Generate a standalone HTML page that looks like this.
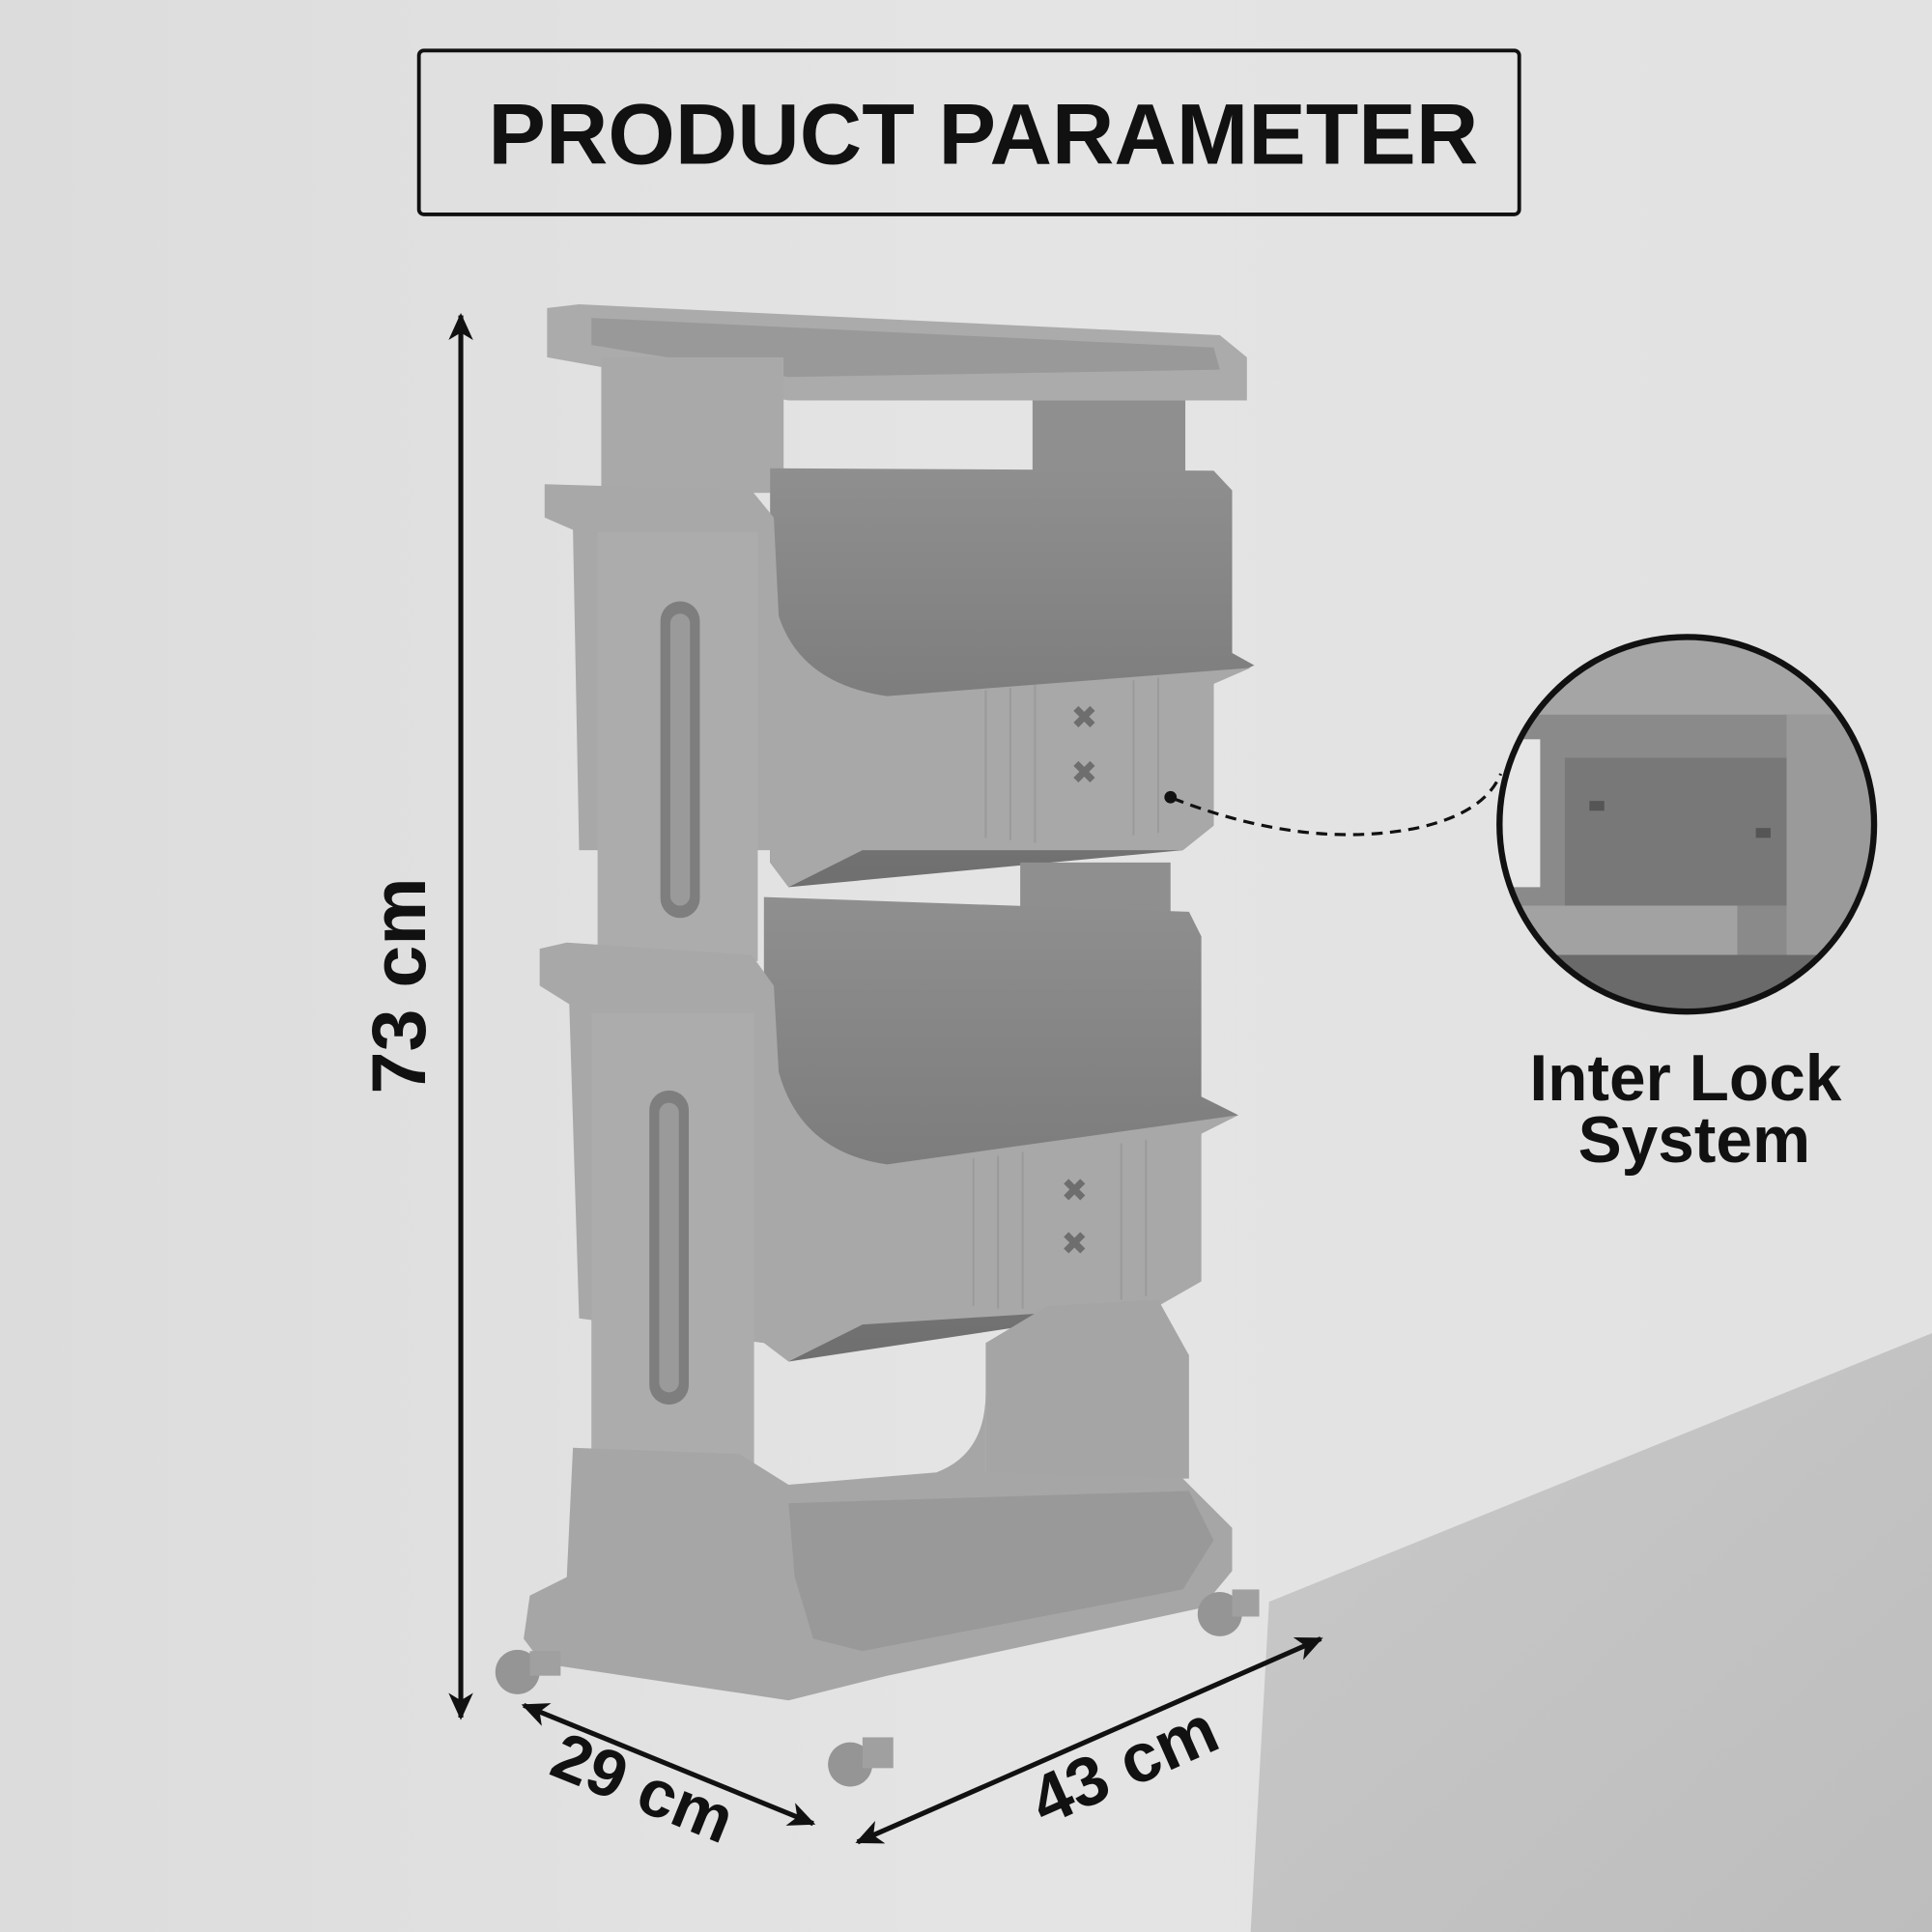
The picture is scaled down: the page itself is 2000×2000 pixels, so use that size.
<!DOCTYPE html>
<html><head><style>
html,body{margin:0;padding:0;width:2000px;height:2000px;overflow:hidden;background:#e2e2e2}
svg{display:block}
text{font-family:"Liberation Sans","DejaVu Sans",sans-serif;font-weight:bold;fill:#111}
</style></head><body>
<svg width="2000" height="2000" viewBox="0 0 1568 1568" xmlns="http://www.w3.org/2000/svg">
<defs>
<linearGradient id="bg" x1="0" y1="0" x2="1" y2="0"><stop offset="0" stop-color="#dcdcdc"/><stop offset="0.5" stop-color="#e4e4e4"/><stop offset="1" stop-color="#e2e2e2"/></linearGradient>
<linearGradient id="fl" x1="0" y1="0" x2="1" y2="1"><stop offset="0" stop-color="#c9c9c9"/><stop offset="1" stop-color="#bdbdbd"/></linearGradient>
<linearGradient id="inner" x1="0" y1="0" x2="0" y2="1"><stop offset="0" stop-color="#8f8f8f"/><stop offset="1" stop-color="#6f6f6f"/></linearGradient>
<marker id="ah" markerWidth="24" markerHeight="20" refX="20" refY="10" orient="auto-start-reverse" markerUnits="userSpaceOnUse"><path d="M0,0 L22,10 L0,20 L6,10 Z" fill="#111"/></marker>
<clipPath id="cc"><circle cx="1369" cy="669" r="152"/></clipPath>
</defs>
<rect width="1568" height="1568" fill="url(#bg)"/>
<polygon points="1568,1082 1568,1568 1015,1568 1030,1300" fill="url(#fl)"/>

<rect x="340" y="41" width="893" height="133" rx="4" fill="none" stroke="#111" stroke-width="3"/>
<text x="798" y="133" font-size="70" text-anchor="middle">PRODUCT PARAMETER</text>

<g stroke="none">
<path d="M444,250 L470,247 L990,272 L1012,290 L1012,325 L640,325 L444,290 Z" fill="#ababab"/>
<path d="M480,258 L985,282 L990,300 L640,306 L480,280 Z" fill="#999"/>
<rect x="488" y="290" width="148" height="110" fill="#a9a9a9"/>
<rect x="838" y="325" width="124" height="58" fill="#8f8f8f"/>
<path d="M625,380 L985,382 L1000,398 L1000,530 L1018,540 L985,555 L985,670 L960,690 L640,720 L625,700 Z" fill="url(#inner)"/>
<path d="M442,393 L610,398 L628,420 L632,500 Q650,555 720,565 L1015,542 L985,555 L985,670 L960,690 L700,690 L640,720 L625,700 L625,690 L470,690 L465,430 L442,420 Z" fill="#a8a8a8"/>
<rect x="485" y="432" width="130" height="348" fill="#acacac"/>
<rect x="536" y="488" width="32" height="257" rx="16" fill="#7e7e7e"/>
<rect x="544" y="498" width="16" height="237" rx="8" fill="#9a9a9a"/>
<rect x="828" y="700" width="122" height="42" fill="#8f8f8f"/>
<path d="M620,728 L965,740 L975,760 L975,890 L1005,905 L975,920 L970,1040 L940,1060 L640,1105 L620,1080 Z" fill="url(#inner)"/>
<path d="M438,770 L460,765 L610,775 L628,800 L632,870 Q650,935 720,945 L1005,905 L975,920 L975,1040 L940,1060 L700,1075 L640,1105 L620,1090 L470,1070 L462,815 L438,800 Z" fill="#a8a8a8"/>
<rect x="480" y="822" width="132" height="378" fill="#acacac"/>
<rect x="527" y="885" width="32" height="255" rx="16" fill="#7e7e7e"/>
<rect x="535" y="895" width="16" height="235" rx="8" fill="#9a9a9a"/>
<path d="M800,1090 L850,1060 L940,1055 L965,1100 L965,1200 L800,1200 Z" fill="#a5a5a5"/>
<path d="M465,1175 L600,1180 L640,1205 L760,1195 Q800,1180 800,1130 L800,1195 L960,1200 L1000,1240 L1000,1275 L975,1305 L720,1360 L640,1380 L440,1350 L425,1330 L430,1295 L460,1280 Z" fill="#a6a6a6"/>
<path d="M640,1220 L965,1210 L985,1250 L960,1290 L700,1340 L660,1330 L645,1280 Z" fill="#999"/>
<g stroke="#9a9a9a" stroke-width="1.5">
<line x1="800" y1="560" x2="800" y2="680"/><line x1="820" y1="558" x2="820" y2="682"/><line x1="840" y1="556" x2="840" y2="684"/><line x1="920" y1="552" x2="920" y2="678"/><line x1="940" y1="550" x2="940" y2="676"/>
<line x1="790" y1="940" x2="790" y2="1060"/><line x1="810" y1="938" x2="810" y2="1062"/><line x1="830" y1="935" x2="830" y2="1062"/><line x1="910" y1="928" x2="910" y2="1055"/><line x1="930" y1="925" x2="930" y2="1052"/>
</g>
<g font-size="26"><text x="880" y="591" text-anchor="middle" style="fill:#6e6e6e">✖</text><text x="880" y="636" text-anchor="middle" style="fill:#6e6e6e">✖</text><text x="872" y="975" text-anchor="middle" style="fill:#6e6e6e">✖</text><text x="872" y="1018" text-anchor="middle" style="fill:#6e6e6e">✖</text></g>
<circle cx="420" cy="1357" r="18" fill="#959595"/><circle cx="690" cy="1432" r="18" fill="#959595"/><circle cx="990" cy="1310" r="18" fill="#959595"/>
<rect x="430" y="1340" width="25" height="20" fill="#a0a0a0"/><rect x="700" y="1410" width="25" height="25" fill="#a0a0a0"/><rect x="1000" y="1290" width="22" height="22" fill="#a0a0a0"/>
</g>
<circle cx="950" cy="647" r="5" fill="#111"/>

<line x1="374" y1="256" x2="374" y2="1394" stroke="#111" stroke-width="4" marker-start="url(#ah)" marker-end="url(#ah)"/>
<text transform="translate(345,800) rotate(-90)" font-size="62" text-anchor="middle">73 cm</text>
<line x1="425" y1="1384" x2="660" y2="1480" stroke="#111" stroke-width="4" marker-start="url(#ah)" marker-end="url(#ah)"/>
<text transform="translate(515,1468) rotate(22)" font-size="54" text-anchor="middle">29 cm</text>
<line x1="696" y1="1495" x2="1072" y2="1330" stroke="#111" stroke-width="4" marker-start="url(#ah)" marker-end="url(#ah)"/>
<text transform="translate(920,1450) rotate(-24)" font-size="56" text-anchor="middle">43 cm</text>

<path d="M952,648 Q1060,690 1150,672 Q1205,660 1218,628" fill="none" stroke="#111" stroke-width="2.5" stroke-dasharray="9,6"/>

<g clip-path="url(#cc)">
<rect x="1210" y="510" width="320" height="320" fill="#8a8a8a"/>
<rect x="1210" y="510" width="320" height="70" fill="#a5a5a5"/>
<rect x="1210" y="600" width="40" height="120" fill="#e6e6e6"/>
<rect x="1270" y="615" width="190" height="120" fill="#787878"/>
<rect x="1290" y="650" width="12" height="8" fill="#555"/><rect x="1425" y="672" width="12" height="8" fill="#555"/>
<rect x="1450" y="580" width="80" height="260" fill="#9a9a9a"/>
<rect x="1210" y="735" width="200" height="40" fill="#a2a2a2"/>
<rect x="1210" y="775" width="300" height="60" fill="#6a6a6a"/>
</g>
<circle cx="1369" cy="669" r="152" fill="none" stroke="#111" stroke-width="5"/>
<text x="1368" y="893" font-size="53" text-anchor="middle">Inter Lock</text>
<text x="1375" y="943" font-size="53" text-anchor="middle">System</text>
</svg>
</body></html>
